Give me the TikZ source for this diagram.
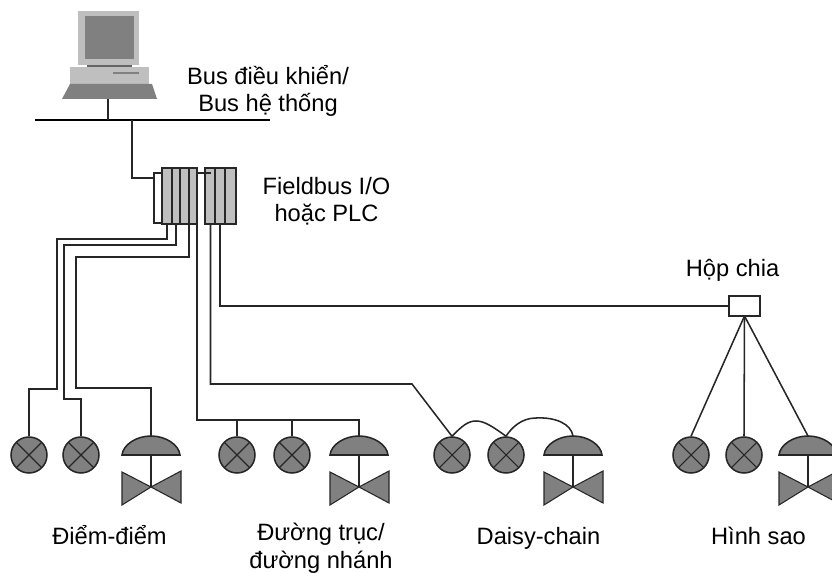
\documentclass[tikz,border=0pt]{standalone}
\usepackage{fontspec}
\setmainfont{Liberation Sans}
\usetikzlibrary{positioning}

\begin{document}
\begin{tikzpicture}[
  x=0.75pt, y=-0.75pt,
  wire/.style={draw=black!85, line width=1.15pt},
  lamp/.style={circle, draw=black!85, fill=black!50, line width=1.15pt, inner sep=0pt, minimum size=27pt,
    path picture={\draw[line width=0.8pt, black!85] (path picture bounding box.north west) -- (path picture bounding box.south east)
      (path picture bounding box.north east) -- (path picture bounding box.south west);}},
  slot/.style={rectangle, draw=black!85, fill=black!25, line width=1.15pt, inner sep=0pt, outer sep=0pt, minimum height=42pt},
  label/.style={font=\fontsize{17.75pt}{20.5pt}\selectfont, inner sep=0pt, align=center, anchor=base},
  valve/.pic={
    \draw[black!85, fill=black!50, line width=1.15pt] (-29,0) .. controls (-28,-10) and (-15,-19) .. (0,-19)
      .. controls (15,-19) and (28,-10) .. (29,0) -- cycle;
    \draw[black!85, fill=black!50, line width=0.8pt] (-29,17) -- (0,32) -- (-29,50) -- cycle;
    \draw[black!85, fill=black!50, line width=0.8pt] (30,16) -- (0,32) -- (30,48) -- cycle;
    \draw[black!85, line width=1.15pt] (0,0) -- (0,32);
    \coordinate (-top) at (0,-19);
  }
]
\useasboundingbox (0,0) rectangle (832,573);

% computer
\fill[black!25] (78,11) rectangle (139,65);
\fill[black!50] (85,16) rectangle (134,59);
\fill[black!60] (87,65) rectangle (132,67);
\fill[black!25] (70,67) rectangle (149,84);
\fill[black!50] (113,72) rectangle (139,74);
\fill[black!50] (70,84) -- (152,84) -- (157,99) -- (62,99) -- cycle;
\coordinate (pc) at (108,99);

% bus
\coordinate (busL) at (35,120);
\coordinate (busR) at (270,120);
\coordinate (tapPC) at (108,120);
\coordinate (tapIO) at (132,120);
\draw[line width=1.15pt, black] (busL) -- (busR);
\draw[wire] (pc) -- (tapPC);

% I/O racks
\node[rectangle, draw=black!85, fill=white, line width=1.15pt, inner sep=0pt, minimum width=9pt, minimum height=37.5pt] (back) at (160,198) {};
\node[slot, minimum width=7.5pt] (s1) at (167,196) {};
\node[slot, minimum width=6pt] (s2) at (176,196) {};
\node[slot, minimum width=6.75pt] (s3) at (184.5,196) {};
\node[slot, minimum width=6pt] (s4) at (193,196) {};
\node[slot, minimum width=8pt] (s5) at (210.5,196) {};
\node[slot, minimum width=7.5pt] (s6) at (220,196) {};
\node[slot, minimum width=8.25pt] (s7) at (230.5,196) {};
\draw[wire] (tapIO) |- (back.west |- 132,178);
\draw[wire] (s4.east |- 0,173) -- (s5.center |- 0,173);

% field devices
\node[lamp] (l1) at (29,455) {};
\node[lamp] (l2) at (81,455) {};
\pic (v1) at (151,455) {valve};
\node[lamp] (l3) at (237,455) {};
\node[lamp] (l4) at (292,455) {};
\pic (v2) at (359,455) {valve};
\node[lamp] (l5) at (452,455) {};
\node[lamp] (l6) at (506,455) {};
\pic (v3) at (573,455) {valve};
\node[lamp] (l7) at (691,455) {};
\node[lamp] (l8) at (744,455) {};
\pic (v4) at (808,455) {valve};
\node[rectangle, draw=black!85, fill=white, line width=1.15pt, inner sep=0pt, outer sep=0pt, minimum width=23pt, minimum height=15pt] (box) at (744.5,306) {};

% point to point
\draw[wire] (s1.south) |- (57,239) |- (29,389) -- (l1.north);
\draw[wire] (s2.south) |- (64,245) |- (81,399) -- (l2.north);
\draw[wire] (s3.south east) |- (76,257) |- (151,388) -- (v1-top);

% trunk
\coordinate (t3) at (237,420);
\coordinate (t4) at (292,420);
\draw[wire] (s4.south east) |- (359,420) -- (v2-top);
\draw[wire] (t3) -- (l3.north);
\draw[wire] (t4) -- (l4.north);

% daisy chain
\draw[wire] (s5.south) |- (412,384) -- (l5.north);
\draw[wire] (l5.north) .. controls (462,426) and (468,421) .. (476,421) .. controls (484,421) and (492,426) .. (l6.north);
\draw[wire] (l6.north) .. controls (512,427) and (522,418) .. (536,418) .. controls (556,417) and (571,424) .. (v3-top);

% star
\draw[wire] (s6.south) |- (box.west);
\draw[wire] (box.south) -- (l7.north);
\draw[wire] (box.south) -- (l8.north);
\draw[wire] (box.south) -- (v4-top);

% labels
\node[label] (tBus) at (268,112) {Bus điều khiển/\\Bus hệ thống};
\node[label] (tIO) at (326.5,222) {Fieldbus I/O\\hoặc PLC};
\node[label] (tBox) at (732.5,277) {Hộp chia};
\node[label] (tA) at (109.5,544) {Điểm-điểm};
\node[label] (tB) at (321,568) {Đường trục/\\đường nhánh};
\node[label] (tC) at (538.5,544) {Daisy-chain};
\node[label] (tD) at (758.5,544) {Hình sao};
\end{tikzpicture}
\end{document}
